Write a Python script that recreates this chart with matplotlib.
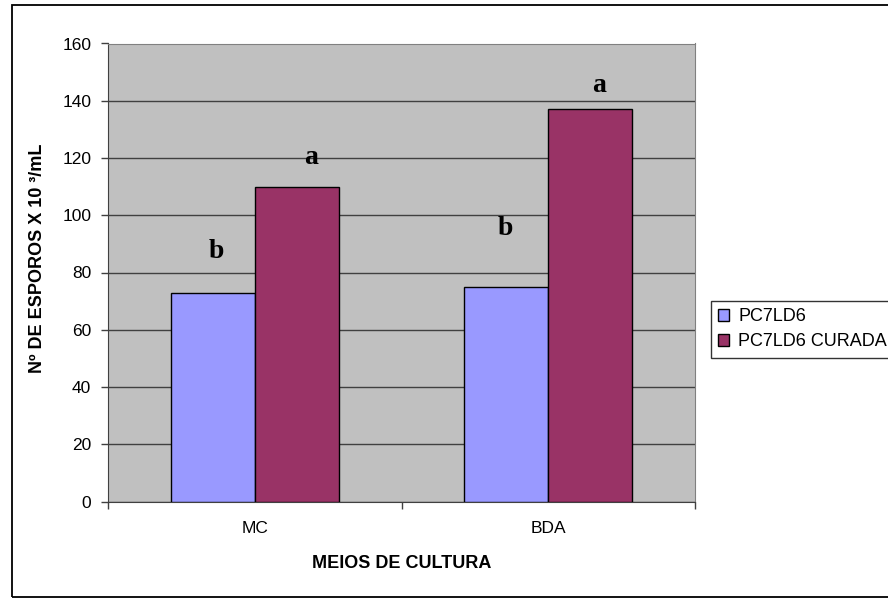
import matplotlib
matplotlib.use("Agg")
import matplotlib.pyplot as plt
from matplotlib.patches import Rectangle
import numpy as np

# data
meios = ["MC", "BDA"]
pc7ld6 = [73, 75]
pc7ld6_curada = [110, 137]
letras_pc7ld6 = ["b", "b"]
letras_curada = ["a", "a"]
series_names = ["PC7LD6", "PC7LD6 CURADA"]
yticks = [0, 20, 40, 60, 80, 100, 120, 140, 160]

# style / layout
BLUE = "#9999FF"
WINE = "#993366"
BG = "#C0C0C0"
BAR_W = 0.287
FS = 13
TICK_FS = 12.5
LET_FS = 20
# letter nudges (x in category units, y in data units above the bar)
nudge_blue = [(0.013, 14.3), (-0.004, 20.5)]
nudge_wine = [(0.05, 10.0), (0.03, 8.5)]

plt.rcParams['font.family'] = ['Liberation Sans', 'DejaVu Sans']

fig = plt.figure(figsize=(8.88, 5.98), dpi=100)
ax = fig.add_axes([108/888, 1-501.5/598, (695-108)/888, (501.5-43.5)/598])
ax.set_facecolor(BG)

x = np.arange(len(meios))
ax.bar(x - BAR_W/2, pc7ld6, BAR_W, color=BLUE, edgecolor="black", linewidth=1, label=series_names[0], zorder=3)
ax.bar(x + BAR_W/2, pc7ld6_curada, BAR_W, color=WINE, edgecolor="black", linewidth=1, label=series_names[1], zorder=3)

for i in range(len(meios)):
    dx, dy = nudge_blue[i]
    ax.text(x[i] - BAR_W/2 + dx, pc7ld6[i] + dy, letras_pc7ld6[i], ha="center", va="center",
            fontsize=LET_FS, fontweight="bold", family="Liberation Serif", zorder=4)
    dx, dy = nudge_wine[i]
    ax.text(x[i] + BAR_W/2 + dx, pc7ld6_curada[i] + dy, letras_curada[i], ha="center", va="center",
            fontsize=LET_FS, fontweight="bold", family="Liberation Serif", zorder=4)

ax.set_ylim(0, 160)
ax.set_xlim(-0.5, len(meios) - 0.5)
ax.set_yticks(yticks)
ax.yaxis.grid(True, color="#404040", linewidth=1, zorder=1)
ax.set_axisbelow(True)

# category boundaries as major ticks, labels on minor ticks
ax.set_xticks(np.arange(-0.5, len(meios), 1.0))
ax.set_xticklabels([])
ax.set_xticks(x, minor=True)
ax.set_xticklabels(meios, minor=True)
ax.tick_params(axis="x", which="major", direction="out", length=5, width=1, color="#404040")
ax.tick_params(axis="x", which="minor", length=0, pad=14, labelsize=TICK_FS)
ax.tick_params(axis="y", direction="out", length=5, width=1, color="#404040", pad=7, labelsize=TICK_FS)

for s in ["top", "right"]:
    ax.spines[s].set_color("#808080")
for s in ["left", "bottom"]:
    ax.spines[s].set_color("#404040")

ax.set_xlabel("MEIOS DE CULTURA", fontsize=FS, fontweight="bold", labelpad=14)
ax.set_ylabel("Nº DE ESPOROS X 10 ³/mL", fontsize=FS, fontweight="bold")
ax.yaxis.set_label_coords(-0.105, 0.53)

leg = ax.legend(loc="upper left", bbox_to_anchor=(711/888, 1-301/598), bbox_transform=fig.transFigure,
                fontsize=FS, frameon=True, fancybox=False, handlelength=0.6, handleheight=0.6,
                handletextpad=0.5, borderpad=0.4, labelspacing=0.45, borderaxespad=0)
leg.get_frame().set_edgecolor("black")
leg.get_frame().set_linewidth(1)

# outer chart frame
fig.patches.append(Rectangle((12/888, 1.5/598), 1.0, 592/598, transform=fig.transFigure,
                             fill=False, edgecolor="black", linewidth=1.3, clip_on=False))

fig.savefig("out.png", dpi=100)
